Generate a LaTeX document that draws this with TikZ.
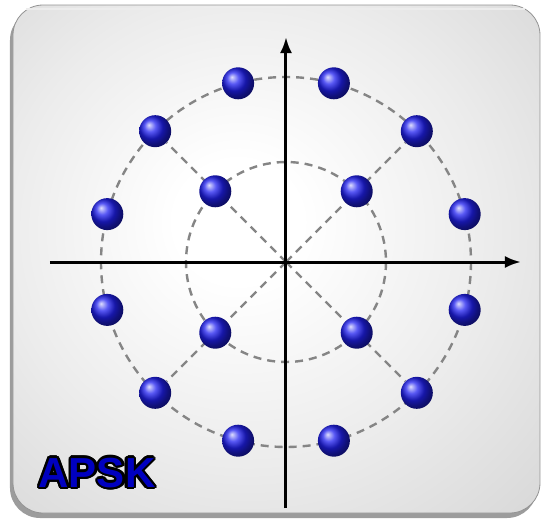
\documentclass[tikz,border=0pt]{standalone}
\usepackage{fontspec}
\newfontfamily\tagfont{Liberation Sans}
\usepackage{contour}
\contourlength{1.2pt}
\usetikzlibrary{arrows.meta,calc}
\definecolor{ringgray}{HTML}{858585}
\definecolor{dotblue}{HTML}{2020F0}
\definecolor{tagblue}{HTML}{0000C0}
\pgfdeclareradialshading{panelglow}{\pgfpoint{-4bp}{4bp}}{%
  color(0bp)=(white); color(6bp)=(white); color(23bp)=(gray!15); color(50bp)=(gray!43); color(72bp)=(gray!62)}
\pgfdeclarelayer{back}
\pgfsetlayers{back,main}
\tikzset{
  ball/.style={circle,minimum size=16pt,inner sep=0pt,shading=ball,ball color=dotblue},
  ring/.style={draw=ringgray,line width=1.2pt,dash pattern=on 4pt off 3pt},
  spoke/.style={ring},
  axis/.style={line width=1.5pt,-{Latex[length=8pt,width=6pt]}},
  tag/.style={font=\tagfont\bfseries\fontsize{21}{21}\selectfont,text=tagblue}
}
\begin{document}
\begin{tikzpicture}[x=0.5pt,y=-0.5pt]
  \useasboundingbox (0,0) rectangle (543,520);
  \coordinate (c) at (286,262);
  % constellation points
  \foreach \k in {0,...,11}
    \node[ball] (o\k) at ($(c)+({15+30*\k}:185)$) {};
  \foreach \k in {0,...,3}
    \node[ball] (i\k) at ($(c)+({45+90*\k}:100)$) {};
  \node[tag] (label) at (97,474) {\contour{black}{APSK}};
  \begin{pgfonlayer}{back}
    % panel
    \fill[gray!78,rounded corners=15pt] (10,10) rectangle (537,518);
    \shade[shading=panelglow,rounded corners=15pt,draw=gray!85] (13,5) rectangle (540,513);
    \draw[white!85!gray,line width=1pt,rounded corners=14pt] (26,8.5) -- (525,8.5);
    % rings and spokes
    \draw[ring] (c) circle[radius=185];
    \draw[ring] (c) circle[radius=100];
    \foreach \k in {1,4,7,10}
      \draw[spoke] (c) -- (o\k);
    % axes
    \coordinate (xl) at (50,262);
    \coordinate (xr) at (521,262);
    \coordinate (yb) at (286,508);
    \coordinate (yt) at (286,37);
    \draw[axis] (xl) -- (xr);
    \draw[axis] (yb) -- (yt);
  \end{pgfonlayer}
\end{tikzpicture}
\end{document}
